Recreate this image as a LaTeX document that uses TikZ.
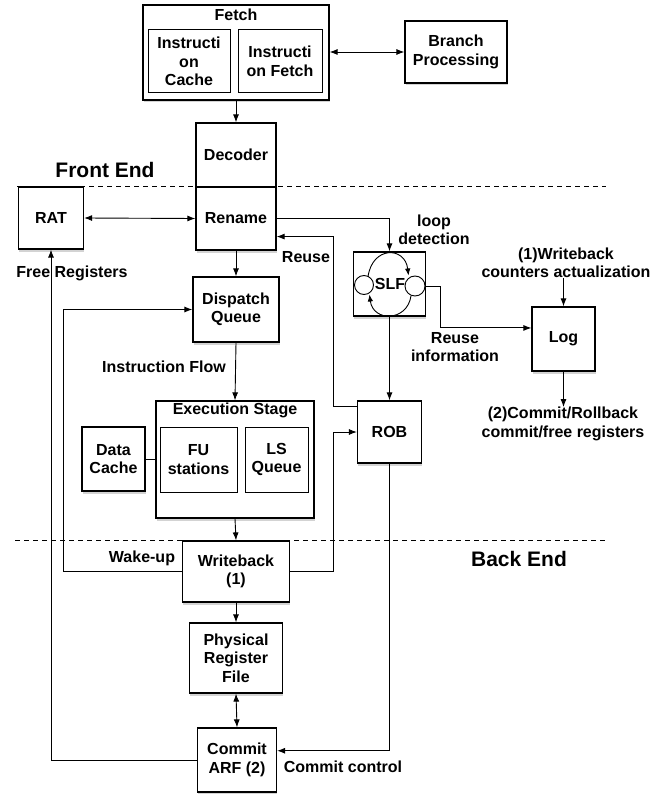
\documentclass[tikz,border=0pt]{standalone}
\usepackage{fontspec}
\setmainfont{Liberation Sans}
\usetikzlibrary{arrows.meta,shadows}
\begin{document}
\begin{tikzpicture}[x=1pt,y=-1pt,
  every node/.style={font=\bfseries\fontsize{16}{18.5}\selectfont, inner sep=0pt, align=center},
  box/.style={draw, line width=1.2pt, fill=white, drop shadow={shadow xshift=0.8pt, shadow yshift=-2.5pt, opacity=0.35}},
  inbox/.style={draw, line width=1pt, fill=white},
  con/.style={line width=0.9pt},
  arr/.style={con, -{Latex[length=8pt,width=6pt]}},
  darr/.style={con, {Latex[length=8pt,width=6pt]}-{Latex[length=8pt,width=6pt]}},
  sep/.style={line width=0.8pt, dash pattern=on 5pt off 4pt},
  big/.style={font=\bfseries\fontsize{21}{24}\selectfont}
]
\useasboundingbox (0,0) rectangle (668,794);

% separators
\coordinate (s1a) at (17,186); \coordinate (s1b) at (606,186);
\coordinate (s2a) at (15,540); \coordinate (s2b) at (606,540);
\draw[sep] (s1a) -- (s1b);
\draw[sep] (s2a) -- (s2b);

% Fetch
\node[box, minimum width=186pt, minimum height=95pt] (fetch) at (236,52.5) {};
\node (fetchlab) at (236,15) {Fetch};
\node[inbox, minimum width=82pt, minimum height=63pt] (icache) at (189,61.5) {Instructi\\on\\Cache};
\node[inbox, minimum width=84pt, minimum height=63pt] (ifetch) at (280,61.5) {Instructi\\on Fetch};
\node[box, minimum width=102pt, minimum height=62pt] (branch) at (456,52) {Branch\\Processing};

% Decoder / Rename
\node[box, minimum width=80pt, minimum height=64pt] (decoder) at (236,155) {Decoder};
\node[box, minimum width=80pt, minimum height=63pt] (rename) at (236,218.5) {Rename};
\node[box, minimum width=65pt, minimum height=62pt] (rat) at (51,218) {RAT};

\node[big] (frontend) at (105,170) {Front End};
\node[big] (backend) at (519,559) {Back End};

% Dispatch
\node[box, minimum width=86pt, minimum height=65pt] (dispatch) at (236,309.5) {Dispatch\\Queue};

% SLF
\node[box, minimum width=72pt, minimum height=64pt] (slf) at (389.5,284) {};
\node[draw, circle, line width=0.9pt, fill=white, minimum size=19pt] (c1) at (364,285) {};
\node[draw, circle, line width=0.9pt, fill=white, minimum size=20pt] (c2) at (415,286) {};
\node (slflab) at (390,284) {SLF};
\draw[con, -{Latex[length=7pt,width=5.5pt]}] (368,277) .. controls (372,246) and (405,246) .. (408.5,275.5);
\draw[con, -{Latex[length=7pt,width=5.5pt]}] (411,296) .. controls (407,322) and (373,322) .. (369.5,294.5);

% Log
\node[box, minimum width=63pt, minimum height=64pt] (log) at (563.5,339) {Log};
\node (wlab) at (566,263) {(1)Writeback\\counters actualization};
\node (clab) at (563,424) {(2)Commit/Rollback\\commit/free registers};

% Execution
\node[box, minimum width=158pt, minimum height=117pt] (exec) at (235,459.5) {};
\node (execlab) at (235,410) {Execution Stage};
\node[inbox, minimum width=77pt, minimum height=65pt] (fu) at (198.5,459.5) {FU\\stations};
\node[inbox, minimum width=63pt, minimum height=65pt] (ls) at (276.5,459.5) {LS\\Queue};
\node[box, minimum width=63pt, minimum height=64pt] (dcache) at (113.5,459) {Data\\Cache};

% ROB
\node[box, minimum width=64pt, minimum height=62pt] (rob) at (389.5,432) {ROB};

% back end
\node[box, minimum width=107pt, minimum height=61pt] (wb) at (236,571.5) {Writeback\\(1)};
\node[box, minimum width=93pt, minimum height=70pt] (prf) at (236,658) {Physical\\Register\\File};
\node[box, minimum width=79pt, minimum height=64pt] (commit) at (237,760) {Commit\\ARF (2)};

% labels
\node (freereg) at (72,273) {Free Registers};
\node (reuselab) at (306,257) {Reuse};
\node (looplab) at (434,230) {loop\\detection};
\node (reuseinfo) at (455,347) {Reuse\\information};
\node (iflow) at (164,367) {Instruction Flow};
\node (wakelab) at (142,558) {Wake-up};
\node (cctrl) at (343,767) {Commit control};

% helper coordinates for routing
\coordinate (wk) at (63,0);
\coordinate (rj) at (333,0);
\coordinate (lj) at (440,0);

% connectors
\draw[arr] (fetch.south) -- (decoder.north);
\draw[darr] (fetch.east |- branch.west) -- (branch.west);
\draw[darr] (rat.east) -- (rename.west);
\draw[arr] (rename.east) -| (slf.north);
\draw[arr] (rename.south) -- (dispatch.north);
\draw[arr] (dispatch.south) -- (exec.north);
\draw[arr] (exec.south) -- (wb.north);
\draw[arr] (wb.south) -- (prf.north);
\draw[darr] (prf.south) -- (commit.north);
\draw[con] (dcache.east) -- (dcache.east -| exec.west);
\draw[arr] (slf.south) -- (rob.north);
\draw[arr] (commit.west) -| (rat.south);
\draw[arr] (rob.south) |- (commit.13);
\draw[arr] (wb.west) -- (wb.west -| wk) -- (wk |- dispatch.west) -- (dispatch.west);
\draw[arr] (wb.east) -- (wb.east -| rj) -- (rj |- rob.west) -- (rob.west);
\draw[arr] (rob.142) -- (rob.142 -| rj) -- (rj |- rename.-24) -- (rename.-24);
\draw[arr] (c2.east) -- (c2.east -| lj) -- (lj |- log.161) -- (log.161);
\draw[arr] (log.north |- wlab.south) -- (log.north);
\draw[arr] (log.south) -- (log.south |- clab.north);
\end{tikzpicture}
\end{document}
